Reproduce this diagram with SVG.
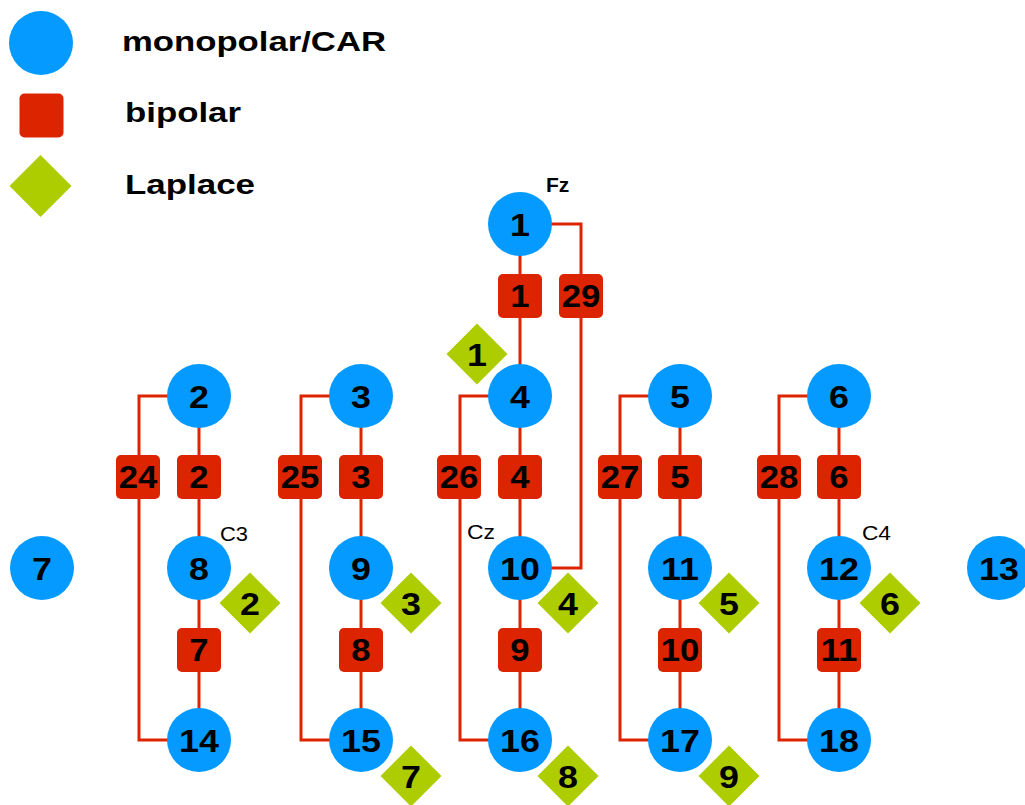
<svg xmlns="http://www.w3.org/2000/svg" width="1025" height="805" viewBox="0 0 1025 805">
  <style>
    .mono circle { fill: #049aff; }
    .bip rect { fill: #dd2400; }
    .lap polygon { fill: #adcd00; }
    .num { font-family: "Liberation Sans", Arial, sans-serif; font-weight: bold; font-size: 32px; text-anchor: middle; fill: #000; transform: scale(1.12, 1); }
    .bip .num { font-size: 31px; }
    .leg { font-family: "Liberation Sans", Arial, sans-serif; font-weight: bold; font-size: 28px; fill: #000; }
    .site { font-family: "Liberation Sans", Arial, sans-serif; font-size: 21px; fill: #000; }
    .wire { fill: none; stroke: #dd2400; stroke-width: 3; }
  </style>

  <rect width="1025" height="805" fill="#ffffff"/>

  <!-- legend -->
  <g id="legend">
    <circle cx="41" cy="43" r="32" fill="#049aff"/>
    <rect x="19.5" y="93.5" width="44" height="44" rx="5" fill="#dd2400"/>
    <polygon points="40.5,155 71.5,186 40.5,217 9.5,186" fill="#adcd00"/>
    <text class="leg" x="122" y="51" textLength="264" lengthAdjust="spacingAndGlyphs">monopolar/CAR</text>
    <text class="leg" x="125" y="122" textLength="116" lengthAdjust="spacingAndGlyphs">bipolar</text>
    <text class="leg" x="125" y="194" textLength="130" lengthAdjust="spacingAndGlyphs">Laplace</text>
  </g>

  <!-- connectors -->
  <g id="connectors">
    <path class="wire" d="M520 224 V740"/>
    <path class="wire" d="M520 224 H581 V568 H520"/>
    <path class="wire" d="M199 396 V740"/>
    <path class="wire" d="M361 396 V740"/>
    <path class="wire" d="M680 396 V740"/>
    <path class="wire" d="M839 396 V740"/>
    <path class="wire" d="M199 396 H139 V740 H199"/>
    <path class="wire" d="M361 396 H301 V740 H361"/>
    <path class="wire" d="M520 396 H460 V740 H520"/>
    <path class="wire" d="M680 396 H620 V740 H680"/>
    <path class="wire" d="M839 396 H779 V740 H839"/>
  </g>

  <!-- electrode site names -->
  <g id="sites">
    <text class="site" x="546" y="192" font-weight="bold">Fz</text>
    <text class="site" x="220" y="541" textLength="28" lengthAdjust="spacingAndGlyphs">C3</text>
    <text class="site" x="467" y="539" textLength="28" lengthAdjust="spacingAndGlyphs">Cz</text>
    <text class="site" x="862" y="540" textLength="29" lengthAdjust="spacingAndGlyphs">C4</text>
  </g>

  <!-- bipolar derivations -->
  <g id="b1" class="bip" transform="translate(520,296)"><rect x="-22" y="-22" width="44" height="44" rx="5"/><text class="num" y="11">1</text></g>
  <g id="b29" class="bip" transform="translate(581,296)"><rect x="-22" y="-22" width="44" height="44" rx="5"/><text class="num" y="11">29</text></g>
  <g id="b2" class="bip" transform="translate(199,477)"><rect x="-22" y="-22" width="44" height="44" rx="5"/><text class="num" y="11">2</text></g>
  <g id="b3" class="bip" transform="translate(361,477)"><rect x="-22" y="-22" width="44" height="44" rx="5"/><text class="num" y="11">3</text></g>
  <g id="b4" class="bip" transform="translate(520,477)"><rect x="-22" y="-22" width="44" height="44" rx="5"/><text class="num" y="11">4</text></g>
  <g id="b5" class="bip" transform="translate(680,477)"><rect x="-22" y="-22" width="44" height="44" rx="5"/><text class="num" y="11">5</text></g>
  <g id="b6" class="bip" transform="translate(839,477)"><rect x="-22" y="-22" width="44" height="44" rx="5"/><text class="num" y="11">6</text></g>
  <g id="b24" class="bip" transform="translate(138,477)"><rect x="-22" y="-22" width="44" height="44" rx="5"/><text class="num" y="11">24</text></g>
  <g id="b25" class="bip" transform="translate(300,477)"><rect x="-22" y="-22" width="44" height="44" rx="5"/><text class="num" y="11">25</text></g>
  <g id="b26" class="bip" transform="translate(459,477)"><rect x="-22" y="-22" width="44" height="44" rx="5"/><text class="num" y="11">26</text></g>
  <g id="b27" class="bip" transform="translate(620,477)"><rect x="-22" y="-22" width="44" height="44" rx="5"/><text class="num" y="11">27</text></g>
  <g id="b28" class="bip" transform="translate(779,477)"><rect x="-22" y="-22" width="44" height="44" rx="5"/><text class="num" y="11">28</text></g>
  <g id="b7" class="bip" transform="translate(199,650)"><rect x="-22" y="-22" width="44" height="44" rx="5"/><text class="num" y="11">7</text></g>
  <g id="b8" class="bip" transform="translate(361,650)"><rect x="-22" y="-22" width="44" height="44" rx="5"/><text class="num" y="11">8</text></g>
  <g id="b9" class="bip" transform="translate(520,650)"><rect x="-22" y="-22" width="44" height="44" rx="5"/><text class="num" y="11">9</text></g>
  <g id="b10" class="bip" transform="translate(680,650)"><rect x="-22" y="-22" width="44" height="44" rx="5"/><text class="num" y="11">10</text></g>
  <g id="b11" class="bip" transform="translate(839,650)"><rect x="-22" y="-22" width="44" height="44" rx="5"/><text class="num" y="11">11</text></g>

  <!-- monopolar / CAR channels -->
  <g id="m1" class="mono" transform="translate(520,224)"><circle r="32"/><text class="num" y="11.5">1</text></g>
  <g id="m2" class="mono" transform="translate(199,396)"><circle r="32"/><text class="num" y="11.5">2</text></g>
  <g id="m3" class="mono" transform="translate(361,396)"><circle r="32"/><text class="num" y="11.5">3</text></g>
  <g id="m4" class="mono" transform="translate(520,396)"><circle r="32"/><text class="num" y="11.5">4</text></g>
  <g id="m5" class="mono" transform="translate(680,396)"><circle r="32"/><text class="num" y="11.5">5</text></g>
  <g id="m6" class="mono" transform="translate(839,396)"><circle r="32"/><text class="num" y="11.5">6</text></g>
  <g id="m7" class="mono" transform="translate(42,568)"><circle r="32"/><text class="num" y="11.5">7</text></g>
  <g id="m8" class="mono" transform="translate(199,568)"><circle r="32"/><text class="num" y="11.5">8</text></g>
  <g id="m9" class="mono" transform="translate(361,568)"><circle r="32"/><text class="num" y="11.5">9</text></g>
  <g id="m10" class="mono" transform="translate(520,568)"><circle r="32"/><text class="num" y="11.5">10</text></g>
  <g id="m11" class="mono" transform="translate(680,568)"><circle r="32"/><text class="num" y="11.5">11</text></g>
  <g id="m12" class="mono" transform="translate(839,568)"><circle r="32"/><text class="num" y="11.5">12</text></g>
  <g id="m13" class="mono" transform="translate(999,568)"><circle r="32"/><text class="num" y="11.5">13</text></g>
  <g id="m14" class="mono" transform="translate(199,740)"><circle r="32"/><text class="num" y="11.5">14</text></g>
  <g id="m15" class="mono" transform="translate(361,740)"><circle r="32"/><text class="num" y="11.5">15</text></g>
  <g id="m16" class="mono" transform="translate(520,740)"><circle r="32"/><text class="num" y="11.5">16</text></g>
  <g id="m17" class="mono" transform="translate(680,740)"><circle r="32"/><text class="num" y="11.5">17</text></g>
  <g id="m18" class="mono" transform="translate(839,740)"><circle r="32"/><text class="num" y="11.5">18</text></g>

  <!-- Laplace derivations -->
  <g id="l1" class="lap" transform="translate(477,354)"><polygon points="0,-30.5 30.5,0 0,30.5 -30.5,0"/><text class="num" y="11.5">1</text></g>
  <g id="l2" class="lap" transform="translate(250,603)"><polygon points="0,-30.5 30.5,0 0,30.5 -30.5,0"/><text class="num" y="11.5">2</text></g>
  <g id="l3" class="lap" transform="translate(411,603)"><polygon points="0,-30.5 30.5,0 0,30.5 -30.5,0"/><text class="num" y="11.5">3</text></g>
  <g id="l4" class="lap" transform="translate(568,603)"><polygon points="0,-30.5 30.5,0 0,30.5 -30.5,0"/><text class="num" y="11.5">4</text></g>
  <g id="l5" class="lap" transform="translate(729,603)"><polygon points="0,-30.5 30.5,0 0,30.5 -30.5,0"/><text class="num" y="11.5">5</text></g>
  <g id="l6" class="lap" transform="translate(890,603)"><polygon points="0,-30.5 30.5,0 0,30.5 -30.5,0"/><text class="num" y="11.5">6</text></g>
  <g id="l7" class="lap" transform="translate(411,776)"><polygon points="0,-30.5 30.5,0 0,30.5 -30.5,0"/><text class="num" y="11.5">7</text></g>
  <g id="l8" class="lap" transform="translate(568,776)"><polygon points="0,-30.5 30.5,0 0,30.5 -30.5,0"/><text class="num" y="11.5">8</text></g>
  <g id="l9" class="lap" transform="translate(729,776)"><polygon points="0,-30.5 30.5,0 0,30.5 -30.5,0"/><text class="num" y="11.5">9</text></g>
</svg>
